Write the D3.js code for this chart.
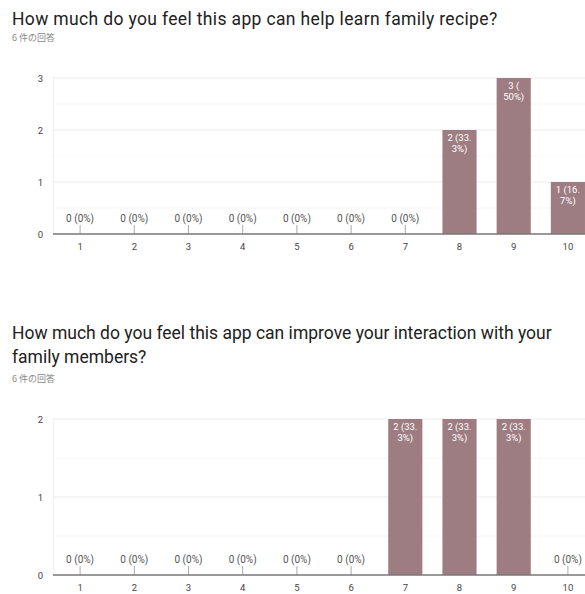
<!DOCTYPE html>
<html>
<head>
<meta charset="utf-8">
<script src="https://cdn.jsdelivr.net/npm/d3@7"></script>
<style>
  body { margin: 0; background: #fff; }
  svg { display: block; font-family: Roboto, Arial, sans-serif; }
</style>
</head>
<body>
<svg id="chart" width="585" height="594"></svg>
<script>
// data
const categories = ["1","2","3","4","5","6","7","8","9","10"];
const recipeCounts = [0,0,0,0,0,0,0,2,3,1];
const familyCounts = [0,0,0,0,0,0,2,2,2,0];
const responses = 6;
const title1 = ["How much do you feel this app can help learn family recipe?"];
const title2 = ["How much do you feel this app can improve your interaction with your", "family members?"];
const subtitle = "6 件の回答";

const svg = d3.select("#chart");
const barColor = "#9d7c82";
const pct = d3.format(".1~f");

function labelText(v){
  return `${v} (${pct(v / responses * 100)}%)`;
}

// break label after space, "(" or "." so it fits inside a bar
function wrapLines(textSel, str, maxW){
  const parts = str.match(/[^ .(]*[ .(]?/g).filter(s => s.length);
  const lines = [];
  let cur = "";
  for (const p of parts){
    const test = cur + p;
    textSel.text(test.trim());
    if (cur && textSel.node().getComputedTextLength() > maxW){
      lines.push(cur.trim());
      cur = p;
    } else cur = test;
  }
  if (cur) lines.push(cur.trim());
  return lines;
}

function drawChart(opts){
  const { titleLines, titleY, subY, top, bottom, counts, yMax, titleSpacing } = opts;
  const left = 53, right = 595;
  const g = svg.append("g");

  g.selectAll("text.title").data(titleLines).join("text")
    .attr("x", 12).attr("y", (d,i) => titleY + i * 24)
    .attr("font-size", 17.5).attr("fill", "#212121")
    .attr("letter-spacing", titleSpacing)
    .text(d => d);
  g.append("text").attr("x", 12).attr("y", subY)
    .attr("font-size", 9).attr("fill", "#888")
    .attr("font-family", "'Noto Sans CJK JP', Roboto, sans-serif")
    .text(subtitle);

  const x = d3.scaleBand().domain(categories).range([left, right])
    .paddingInner(0.37).paddingOuter(0.185);
  const y = d3.scaleLinear().domain([0, yMax]).range([bottom, top]);

  // minor + major gridlines
  const minor = d3.range(0.5, yMax, 1);
  g.selectAll("line.minor").data(minor).join("line")
    .attr("x1", left).attr("x2", right)
    .attr("y1", d => y(d)).attr("y2", d => y(d))
    .attr("stroke", "#f6f6f6");
  g.selectAll("line.major").data(d3.range(1, yMax + 1)).join("line")
    .attr("x1", left).attr("x2", right)
    .attr("y1", d => y(d)).attr("y2", d => y(d))
    .attr("stroke", "#ececec");
  g.append("line").attr("x1", left + 0.5).attr("x2", left + 0.5)
    .attr("y1", top).attr("y2", bottom).attr("stroke", "#f0f0f0");

  // y tick labels
  g.selectAll("text.ytick").data(d3.range(0, yMax + 1)).join("text")
    .attr("x", 43).attr("y", d => y(d) + 3.5)
    .attr("text-anchor", "end").attr("font-size", 9.5).attr("fill", "#444")
    .text(d => d);

  const data = categories.map((c, i) => ({ c, v: counts[i] }));

  // bars
  g.selectAll("rect.bar").data(data.filter(d => d.v > 0)).join("rect")
    .attr("x", d => x(d.c)).attr("width", x.bandwidth())
    .attr("y", d => y(d.v)).attr("height", d => y(0) - y(d.v))
    .attr("fill", barColor);

  // zero labels with small stems
  const zeros = data.filter(d => d.v === 0);
  g.selectAll("line.stem").data(zeros).join("line")
    .attr("x1", d => x(d.c) + x.bandwidth() / 2).attr("x2", d => x(d.c) + x.bandwidth() / 2)
    .attr("y1", bottom - 9).attr("y2", bottom)
    .attr("stroke", "#aaa");
  g.selectAll("text.zero").data(zeros).join("text")
    .attr("x", d => x(d.c) + x.bandwidth() / 2).attr("y", bottom - 12)
    .attr("text-anchor", "middle").attr("font-size", 10).attr("fill", "#555")
    .text(d => labelText(d.v));

  // value labels inside bars
  data.filter(d => d.v > 0).forEach(d => {
    const t = g.append("text")
      .attr("text-anchor", "middle").attr("font-size", 9.5).attr("fill", "#fff");
    const lines = wrapLines(t, labelText(d.v), x.bandwidth() - 4);
    t.text(null);
    t.selectAll("tspan").data(lines).join("tspan")
      .attr("x", x(d.c) + x.bandwidth() / 2)
      .attr("y", (l, i) => y(d.v) + 10.5 + i * 11)
      .text(l => l);
  });

  // baseline
  g.append("line").attr("x1", left).attr("x2", right)
    .attr("y1", bottom).attr("y2", bottom)
    .attr("stroke", "#777").attr("stroke-width", 1.5);

  // x tick labels
  g.selectAll("text.xtick").data(categories).join("text")
    .attr("x", d => x(d) + x.bandwidth() / 2).attr("y", bottom + 16)
    .attr("text-anchor", "middle").attr("font-size", 9.5).attr("fill", "#444")
    .text(d => d);
}

drawChart({ titleLines: title1, titleY: 25, subY: 41, top: 78, bottom: 234, counts: recipeCounts, yMax: 3, titleSpacing: 0.35 });
drawChart({ titleLines: title2, titleY: 339, subY: 382, top: 419, bottom: 575, counts: familyCounts, yMax: 2, titleSpacing: 0 });
</script>
</body>
</html>
